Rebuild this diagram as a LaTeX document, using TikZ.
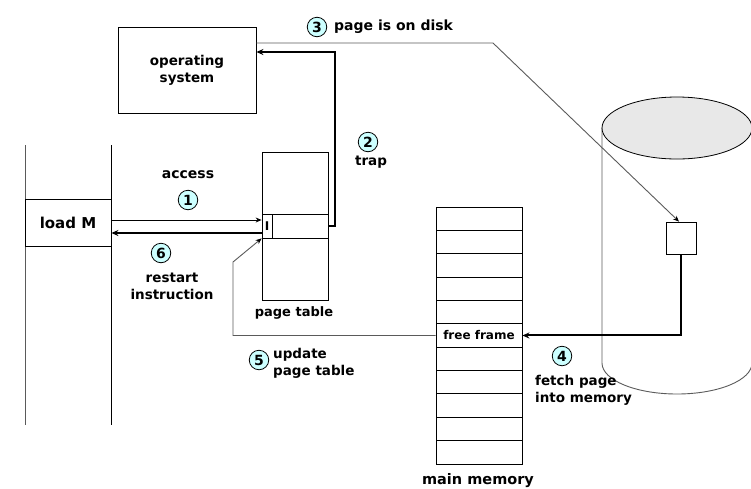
\documentclass[tikz,border=0pt]{standalone}
\usepackage{fontspec}
\setmainfont{DejaVu Sans}
\usetikzlibrary{arrows.meta,calc}
\definecolor{numfill}{RGB}{204,255,255}
\definecolor{thingray}{RGB}{90,90,90}
\definecolor{diskfill}{RGB}{232,232,232}
\begin{document}
\begin{tikzpicture}[x=1pt,y=-1pt,
  lbl/.style={font=\bfseries\fontsize{13.5}{17}\selectfont, align=center, inner sep=0pt},
  lblL/.style={lbl, align=left, anchor=west},
  box/.style={draw=black, line width=0.8pt, inner sep=0pt, fill=white},
  num/.style={circle, draw=black, line width=0.8pt, fill=numfill, minimum size=19.5pt, inner sep=0pt, font=\bfseries\fontsize{14}{14}\selectfont},
  thinarrow/.style={draw=thingray, line width=0.9pt, -{Stealth[length=6pt,width=5pt,color=black]}},
  thickarrow/.style={draw=black, line width=2pt, -{Stealth[length=7pt,width=6pt]}},
  sideline/.style={draw=thingray, line width=0.9pt},
]
\useasboundingbox (0,0) rectangle (751,488);

% disk cylinder
\draw[sideline] (602,128) -- (602,363) arc[start angle=180, end angle=360, x radius=75pt, y radius=31pt] -- (752,128);
\filldraw[fill=diskfill, draw=black, line width=0.8pt] (677,128) ellipse [x radius=75pt, y radius=31pt];
\node[box, minimum width=30pt, minimum height=32pt] (db) at (681,238) {};

% program column
\draw[sideline] (25,145) -- (25,425);
\draw[draw=black, line width=0.9pt] (111,145) -- (111,425);
\node[box, minimum width=86pt, minimum height=47pt, font=\bfseries\fontsize{15}{15}\selectfont] (load) at (68,222.5) {load M};

% operating system
\node[box, minimum width=138pt, minimum height=86pt, align=center, font=\bfseries\fontsize{13.5}{17}\selectfont] (os) at (187,70) {operating\\system};

% page table
\node[box, minimum width=66pt, minimum height=148pt] (pt) at (295,226) {};
\node[box, minimum width=66pt, minimum height=24pt] (pte) at (295,226) {};
\node[box, minimum width=10pt, minimum height=24pt, font=\bfseries\fontsize{12}{12}\selectfont] (ibit) at (267,226) {I};
\node[lbl, font=\bfseries\fontsize{13}{13}\selectfont] (ptl) at (294,313) {page table};

% main memory
\foreach \i in {1,...,11} {
  \node[box, minimum width=86pt, minimum height=23.36pt] (m\i) at (479,{207+23.36*(\i-0.5)}) {};
}
\node[lbl, font=\bfseries\fontsize{12}{12}\selectfont] (ff) at (m6) {free frame};
\node[lbl, font=\bfseries\fontsize{14.5}{14.5}\selectfont] (mml) at (478,481) {main memory};

% connectors
\draw[thinarrow, draw=black] ([yshift=2.5pt]load.east) -- ([yshift=2.5pt]load.east -| pte.west);
\draw[thickarrow] ([yshift=-7pt]pte.west) -- ([yshift=-7pt]pte.west -| load.east);
\draw[thickarrow] (pte.east) -- ++(7,0) |- ([yshift=18pt]os.east);
\coordinate (bend3) at (493,43);
\draw[thinarrow] ([yshift=27pt]os.east) -- (bend3) -- ([xshift=-2pt]db.north);
\draw[thickarrow] (db.south) |- (m6.east);
\coordinate (bend5) at (233,262);
\draw[thinarrow] (m6.west) -| (bend5) -- (pte.south west);

% labels
\node[lbl, font=\bfseries\fontsize{14}{14}\selectfont] (acc) at (188,175) {access};
\node[num] (n1) at (188,200) {1};
\node[num] (n6) at (161,253) {6};
\node[lbl] (rst) at (172,286) {restart\\instruction};
\node[num] (n2) at (368,142) {2};
\node[lbl] (trap) at (371,162) {trap};
\node[num] (n3) at (317,27) {3};
\node[lblL, font=\bfseries\fontsize{14}{17}\selectfont] (disk) at (334,27) {page is on disk};
\node[num] (n5) at (259,360) {5};
\node[lblL] (upd) at (273,363) {update\\page table};
\node[num] (n4) at (562,356) {4};
\node[lblL] (fetch) at (535,390) {fetch page\\into memory};
\end{tikzpicture}
\end{document}
